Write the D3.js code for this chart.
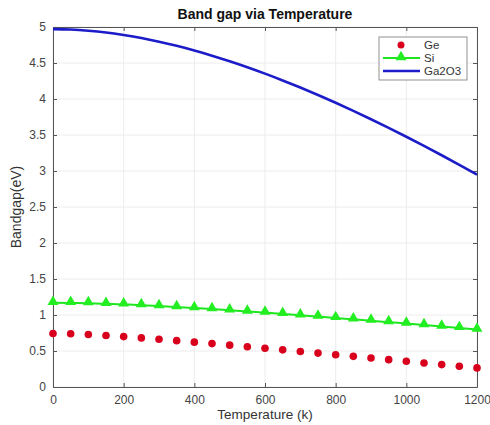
<!DOCTYPE html>
<html>
<head>
<meta charset="utf-8">
<script src="https://cdn.jsdelivr.net/npm/d3@7"></script>
<style>
  body { margin: 0; background: #fff; }
  svg { display: block; font-family: "Liberation Sans", Arial, sans-serif; }
</style>
</head>
<body>
<div id="chart"></div>
<script>
// temperatures (K), every 50
var temps = [0, 50, 100, 150, 200, 250, 300, 350, 400, 450, 500, 550, 600,
  650, 700, 750, 800, 850, 900, 950, 1000, 1050, 1100, 1150, 1200]

// values (eV)
var geGap = [0.744, 0.740, 0.729, 0.716, 0.700, 0.682, 0.663, 0.644, 0.623,
  0.603, 0.581, 0.560, 0.538, 0.516, 0.493, 0.471, 0.448, 0.426, 0.403,
  0.380, 0.357, 0.334, 0.311, 0.288, 0.265]
var siGap = [1.170, 1.168, 1.164, 1.156, 1.147, 1.137, 1.125, 1.111, 1.097,
  1.082, 1.066, 1.049, 1.032, 1.015, 0.997, 0.978, 0.959, 0.940, 0.921,
  0.901, 0.881, 0.861, 0.840, 0.820, 0.799]
var ga2o3Gap = [4.970, 4.965, 4.949, 4.924, 4.889, 4.847, 4.796, 4.738, 4.673,
  4.602, 4.524, 4.441, 4.352, 4.258, 4.159, 4.056, 3.948, 3.835, 3.719,
  3.600, 3.476, 3.349, 3.219, 3.086, 2.950]

var xTicks = [0, 200, 400, 600, 800, 1000, 1200]
var yTicks = [0, 0.5, 1, 1.5, 2, 2.5, 3, 3.5, 4, 4.5, 5]
var seriesNames = ["Ge", "Si", "Ga2O3"]

var width = 490, height = 425
var margin = { left: 53, right: 13, top: 27, bottom: 38 }

var svg = d3.select("#chart").append("svg")
  .attr("width", width)
  .attr("height", height)

var x = d3.scaleLinear().domain([0, 1200]).range([margin.left, width - margin.right])
var y = d3.scaleLinear().domain([0, 5]).range([height - margin.bottom, margin.top])

var axisColor = "#555"
var gridColor = "#ececec"
var fmt = d => String(d)

// grid
svg.append("g").selectAll("line").data(xTicks).join("line")
  .attr("x1", d => x(d)).attr("x2", d => x(d))
  .attr("y1", y(0)).attr("y2", y(5))
  .attr("stroke", gridColor)
svg.append("g").selectAll("line").data(yTicks).join("line")
  .attr("x1", x(0)).attr("x2", x(1200))
  .attr("y1", d => y(d)).attr("y2", d => y(d))
  .attr("stroke", gridColor)

// axes (ticks inward, like matlab)
var styleAxis = function (g) {
  g.select(".domain").attr("stroke", axisColor)
  g.selectAll(".tick line").attr("stroke", axisColor)
  g.selectAll(".tick text").attr("fill", "#444").attr("font-size", 12)
}
svg.append("g")
  .attr("transform", `translate(0,${y(0)})`)
  .call(d3.axisBottom(x).tickValues(xTicks).tickFormat(fmt).tickSizeInner(-4).tickSizeOuter(0).tickPadding(8.5))
  .call(styleAxis)
svg.append("g")
  .attr("transform", `translate(0,${y(5)})`)
  .call(d3.axisTop(x).tickValues(xTicks).tickSizeInner(-4).tickSizeOuter(0).tickFormat(""))
  .call(styleAxis)
svg.append("g")
  .attr("transform", `translate(${x(0)},0)`)
  .call(d3.axisLeft(y).tickValues(yTicks).tickFormat(fmt).tickSizeInner(-4).tickSizeOuter(0).tickPadding(7))
  .call(styleAxis)
svg.append("g")
  .attr("transform", `translate(${x(1200)},0)`)
  .call(d3.axisRight(y).tickValues(yTicks).tickSizeInner(-4).tickSizeOuter(0).tickFormat(""))
  .call(styleAxis)

// data
var geData = temps.map((t, i) => ({ t: t, v: geGap[i] }))
var siData = temps.map((t, i) => ({ t: t, v: siGap[i] }))
var gaData = temps.map((t, i) => ({ t: t, v: ga2o3Gap[i] }))

var line = d3.line().x(d => x(d.t)).y(d => y(d.v)).curve(d3.curveMonotoneX)
var tri = d3.symbol().type(d3.symbolTriangle).size(52)

var plot = svg.append("g")

plot.append("path").datum(gaData)
  .attr("d", line)
  .attr("fill", "none")
  .attr("stroke", "#1c1cc8")
  .attr("stroke-width", 2.6)

plot.append("path").datum(siData)
  .attr("d", line)
  .attr("fill", "none")
  .attr("stroke", "#1ee61e")
  .attr("stroke-width", 2)
plot.append("g").selectAll("path").data(siData).join("path")
  .attr("d", tri)
  .attr("transform", d => `translate(${x(d.t)},${y(d.v) - 1})`)
  .attr("fill", "#22ee22")

plot.append("g").selectAll("circle").data(geData).join("circle")
  .attr("cx", d => x(d.t))
  .attr("cy", d => y(d.v))
  .attr("r", 3.8)
  .attr("fill", "#d8001c")

// title and labels
svg.append("text")
  .attr("x", (x(0) + x(1200)) / 2).attr("y", 19)
  .attr("text-anchor", "middle")
  .attr("font-size", 14).attr("font-weight", "bold")
  .attr("fill", "#111")
  .text("Band gap via Temperature")

svg.append("text")
  .attr("x", (x(0) + x(1200)) / 2).attr("y", 418.5)
  .attr("text-anchor", "middle")
  .attr("font-size", 13.5)
  .attr("fill", "#333")
  .text("Temperature (k)")

svg.append("text")
  .attr("transform", `translate(21,${(y(0) + y(5)) / 2}) rotate(-90)`)
  .attr("text-anchor", "middle")
  .attr("font-size", 14)
  .attr("fill", "#333")
  .text("Bandgap(eV)")

// legend
var lg = svg.append("g")
lg.append("rect")
  .attr("x", 379).attr("y", 37).attr("width", 88).attr("height", 43)
  .attr("fill", "#fff").attr("stroke", "#777").attr("stroke-width", 0.8)

var rowY = [45, 58, 71]
lg.append("circle").attr("cx", 401).attr("cy", rowY[0]).attr("r", 3.5).attr("fill", "#d8001c")
lg.append("line").attr("x1", 383).attr("x2", 420).attr("y1", rowY[1]).attr("y2", rowY[1])
  .attr("stroke", "#1ee61e").attr("stroke-width", 2)
lg.append("path").attr("d", tri).attr("transform", `translate(401,${rowY[1] - 1})`).attr("fill", "#22ee22")
lg.append("line").attr("x1", 383).attr("x2", 420).attr("y1", rowY[2]).attr("y2", rowY[2])
  .attr("stroke", "#1c1cc8").attr("stroke-width", 2.6)

lg.selectAll("text").data(seriesNames).join("text")
  .attr("x", 424)
  .attr("y", (d, i) => rowY[i] + 4)
  .attr("font-size", 11.5)
  .attr("fill", "#333")
  .text(d => d)
</script>
</body>
</html>
